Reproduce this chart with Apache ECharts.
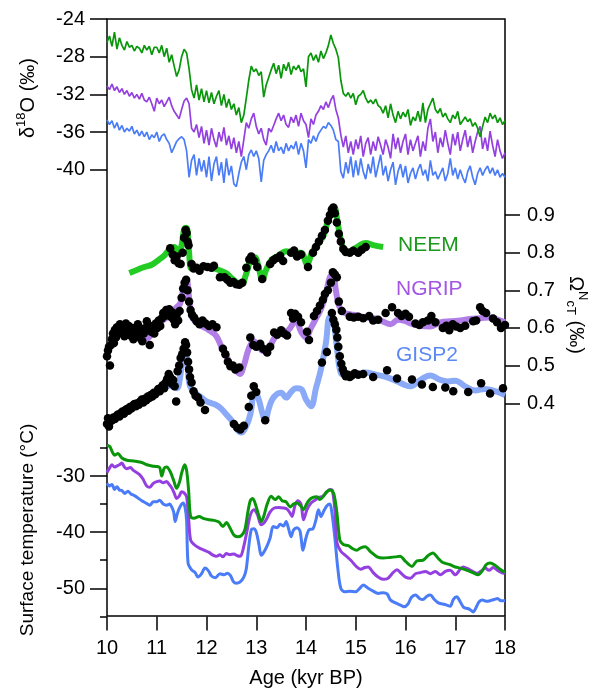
<!DOCTYPE html>
<html>
<head>
<meta charset="utf-8">
<script src="https://cdn.jsdelivr.net/npm/echarts@6/dist/echarts.min.js"></script>
<style>
  html, body { margin: 0; padding: 0; background: #fff; }
  #main { width: 592px; height: 695px; }
</style>
</head>
<body>
<div id="main"></div>
<script>
// ---- data: delta18O, 10..18 kyr, one value every 0.05 kyr ----
var d18oStart = 10, d18oStep = 0.05;
var neemD18O = [
  -26.5, -25.8, -26.9, -25.4, -27.2, -26.0, -26.8, -27.3, -26.4, -27.0,
  -26.8, -27.4, -26.9, -27.1, -27.6, -26.8, -27.3, -26.9, -27.8, -27.0,
  -27.0, -27.6, -26.8, -28.0, -27.1, -28.6, -27.8, -29.0, -30.1, -29.4,
  -28.0, -27.2, -27.6, -29.3, -31.5, -32.4, -31.0, -32.6, -31.4, -32.8,
  -31.6, -32.9, -31.8, -33.0, -32.2, -31.6, -33.2, -32.0, -33.4, -32.5,
  -33.6, -33.0, -34.2, -33.4, -35.0, -34.2, -32.4, -30.5, -29.0, -29.6,
  -29.3, -30.0, -29.6, -32.3, -31.0, -30.2, -29.4, -28.7, -29.8, -28.9,
  -30.3, -28.8, -29.5, -28.6, -29.9, -29.0, -29.4, -28.9, -29.6, -29.3,
  -31.2, -28.0, -27.6, -28.4, -27.8, -28.6, -27.4, -28.2, -27.6, -26.8,
  -25.7, -26.6, -27.2, -28.1, -30.5, -31.9, -32.2, -31.8, -32.4, -31.9,
  -33.1, -32.2, -32.0, -31.6, -32.4, -32.9, -32.6, -33.0, -32.5, -33.2,
  -33.4, -34.0, -33.2, -34.5, -33.0, -34.2, -35.0, -33.8, -34.6, -33.9,
  -34.4, -33.6, -35.3, -34.4, -34.8, -33.8, -34.9, -32.9, -35.0, -33.6,
  -33.0, -32.4, -33.6, -34.0, -33.5, -34.4, -34.0, -34.6, -35.0, -34.2,
  -34.6, -33.8, -35.2, -34.8, -34.4, -34.9, -34.6, -35.4, -35.0, -35.6,
  -36.5, -35.4, -34.4, -35.0, -34.0, -34.6, -34.2, -35.0, -34.5, -35.2,
  -34.8
];
var ngripD18O = [
  -31.1, -31.5, -30.9, -31.6, -31.2, -31.8, -31.4, -32.0, -31.6, -32.2,
  -31.8, -32.4, -32.0, -32.5, -31.9, -32.6, -32.8, -32.3, -33.0, -33.8,
  -32.4, -33.0, -32.6, -33.3, -32.8, -32.3, -33.2, -33.8, -34.2, -34.6,
  -33.6, -32.7, -32.4, -33.0, -35.6, -36.0, -35.2, -36.6, -35.4, -37.2,
  -35.8, -37.4, -35.6, -36.8, -37.6, -36.0, -37.0, -35.5, -37.4, -36.4,
  -37.8, -36.6, -38.2, -37.0, -38.6, -36.8, -35.0, -35.6, -34.6, -34.0,
  -35.4, -36.2, -35.6, -36.8, -37.4, -35.6, -36.0, -35.3, -34.6, -34.0,
  -34.8, -34.2, -35.2, -35.5, -34.4, -35.0, -34.2, -35.4, -34.0, -34.8,
  -35.2, -36.6, -34.6, -35.2, -34.2, -33.8, -33.2, -33.6, -32.8, -33.4,
  -32.6, -32.1, -33.6, -34.5, -36.3, -37.6, -36.4, -38.2, -37.0, -38.4,
  -36.8, -37.8, -36.4, -38.6, -37.2, -36.6, -38.4, -37.0, -38.0, -36.5,
  -37.4, -38.4, -36.8, -37.6, -38.8, -36.2, -37.8, -36.6, -38.2, -37.0,
  -36.2, -38.4, -36.8, -38.0, -37.2, -36.4, -38.6, -37.0, -38.0, -35.6,
  -34.6, -37.0, -36.0, -38.2, -36.6, -37.6, -35.8, -37.2, -38.4, -36.2,
  -37.4, -36.0, -38.0, -36.8, -35.8, -37.6, -36.4, -38.2, -37.0, -36.0,
  -35.4, -37.8, -36.6, -38.0, -35.9, -37.4, -38.6, -36.8, -38.0, -38.8,
  -38.2
];
var gisp2D18O = [
  -34.7, -35.2, -34.8, -35.6, -35.0, -35.8, -35.3, -36.0, -35.6, -35.9,
  -35.4, -36.2, -35.8, -36.4, -35.9, -36.5, -36.0, -36.8, -36.3, -36.6,
  -36.0, -37.0, -36.4, -36.2, -36.8, -37.2, -38.2, -37.6, -37.0, -36.7,
  -36.5, -36.8, -38.0, -40.8, -39.0, -38.4, -40.6, -38.8, -40.2, -39.0,
  -40.8, -38.6, -41.2, -39.4, -38.6, -40.6, -39.2, -41.4, -38.8, -40.6,
  -39.6, -41.5, -41.8, -40.4, -39.2, -38.6, -40.0, -38.4, -37.9, -38.6,
  -38.0, -38.8, -41.3, -39.0, -38.4, -38.0, -37.4, -38.2, -37.0, -38.0,
  -37.6, -38.3, -37.2, -38.0, -37.4, -37.8, -37.0, -38.4, -37.2, -38.0,
  -39.8, -36.8, -37.2, -36.4, -37.0, -36.2, -35.8, -35.4, -35.6, -35.0,
  -35.3, -35.8, -36.8, -37.0, -40.2, -40.9, -39.2, -40.4, -38.6, -40.8,
  -39.0, -40.6, -38.8, -40.2, -41.0, -39.4, -40.4, -38.6, -40.8, -39.6,
  -38.4, -40.6, -39.6, -41.2, -40.0, -39.2, -41.6, -40.2, -39.4, -40.8,
  -39.6, -41.4, -40.4, -39.8, -41.0, -40.0, -39.4, -40.6, -40.0, -41.2,
  -39.0, -40.6, -40.2, -41.0, -40.4, -39.8, -41.2, -40.4, -38.8, -40.6,
  -39.8, -41.0, -40.0, -40.8, -41.4, -40.2, -39.6, -40.8, -41.6, -40.4,
  -39.8, -40.6, -40.0, -39.6, -40.4, -39.8, -40.6, -40.0, -40.8, -40.4,
  -40.8
];

// ---- data: Omega (smoothed curves and samples), [age, value] ----
var neemOmegaLine = [[10.45,0.746],[10.6,0.754],[10.75,0.762],[10.9,0.768],[11.05,0.782],[11.15,0.792],[11.25,0.808],[11.35,0.815],[11.45,0.80],[11.5,0.82],[11.56,0.865],[11.6,0.866],[11.65,0.80],[11.7,0.758],[11.8,0.758],[11.95,0.762],[12.1,0.76],[12.25,0.754],[12.4,0.745],[12.5,0.733],[12.6,0.722],[12.7,0.716],[12.8,0.745],[12.9,0.785],[12.97,0.788],[13.05,0.76],[13.12,0.728],[13.2,0.755],[13.3,0.78],[13.45,0.792],[13.6,0.804],[13.75,0.8],[13.9,0.8],[14.02,0.77],[14.12,0.8],[14.25,0.825],[14.35,0.845],[14.45,0.89],[14.52,0.915],[14.57,0.92],[14.63,0.885],[14.7,0.835],[14.8,0.80],[14.9,0.805],[15.05,0.817],[15.2,0.826],[15.35,0.82],[15.55,0.815]];
var ngripOmegaLine = [[10.5,0.585],[10.6,0.59],[10.7,0.58],[10.8,0.572],[10.9,0.585],[11.0,0.605],[11.1,0.618],[11.2,0.628],[11.3,0.64],[11.4,0.655],[11.47,0.665],[11.53,0.70],[11.6,0.727],[11.65,0.68],[11.7,0.63],[11.8,0.615],[11.9,0.605],[12.0,0.598],[12.1,0.59],[12.2,0.578],[12.3,0.55],[12.4,0.525],[12.5,0.50],[12.6,0.485],[12.67,0.478],[12.75,0.50],[12.85,0.545],[12.95,0.565],[13.05,0.55],[13.15,0.538],[13.25,0.545],[13.35,0.57],[13.45,0.585],[13.55,0.59],[13.65,0.595],[13.8,0.62],[13.9,0.59],[14.0,0.575],[14.1,0.60],[14.2,0.625],[14.3,0.65],[14.4,0.69],[14.48,0.735],[14.54,0.74],[14.6,0.70],[14.66,0.66],[14.75,0.642],[14.9,0.636],[15.0,0.634],[15.2,0.628],[15.4,0.625],[15.5,0.62],[15.7,0.61],[15.85,0.622],[16.0,0.618],[16.1,0.612],[16.3,0.605],[16.5,0.604],[16.7,0.615],[16.9,0.618],[17.1,0.62],[17.3,0.624],[17.5,0.626],[17.7,0.628],[17.85,0.622],[18.0,0.615]];
var gisp2OmegaLine = [[11.2,0.45],[11.3,0.445],[11.4,0.44],[11.47,0.47],[11.53,0.54],[11.57,0.56],[11.62,0.50],[11.67,0.445],[11.8,0.425],[11.9,0.415],[12.0,0.405],[12.1,0.40],[12.2,0.395],[12.3,0.385],[12.4,0.37],[12.5,0.355],[12.6,0.332],[12.7,0.322],[12.8,0.34],[12.88,0.37],[12.97,0.434],[13.05,0.41],[13.12,0.375],[13.18,0.355],[13.25,0.385],[13.32,0.41],[13.42,0.425],[13.5,0.428],[13.6,0.415],[13.7,0.43],[13.8,0.44],[13.9,0.438],[14.0,0.41],[14.1,0.392],[14.2,0.44],[14.3,0.49],[14.4,0.56],[14.48,0.63],[14.55,0.62],[14.62,0.55],[14.7,0.48],[14.8,0.475],[15.0,0.476],[15.2,0.482],[15.4,0.476],[15.6,0.47],[15.8,0.46],[16.0,0.448],[16.1,0.445],[16.3,0.462],[16.5,0.474],[16.7,0.462],[16.85,0.458],[17.0,0.46],[17.2,0.445],[17.4,0.434],[17.6,0.438],[17.8,0.432],[18.0,0.422]];

var neemOmegaDots = [[11.27,0.812],[11.32,0.795],[11.36,0.78],[11.4,0.79],[11.44,0.772],[11.48,0.77],[11.52,0.8],[11.55,0.84],[11.58,0.86],[11.6,0.852],[11.62,0.83],[11.64,0.82],[11.7,0.77],[11.74,0.758],[11.8,0.76],[11.86,0.752],[11.94,0.764],[12.02,0.762],[12.1,0.76],[12.15,0.765],[12.27,0.735],[12.36,0.735],[12.42,0.728],[12.48,0.72],[12.54,0.722],[12.6,0.716],[12.66,0.715],[12.72,0.72],[12.8,0.76],[12.86,0.782],[12.9,0.79],[12.96,0.778],[13.02,0.762],[13.12,0.73],[13.28,0.77],[13.34,0.78],[13.4,0.785],[13.48,0.792],[13.54,0.778],[13.7,0.8],[13.76,0.806],[13.82,0.79],[13.9,0.795],[14.04,0.762],[14.14,0.8],[14.2,0.815],[14.26,0.83],[14.32,0.845],[14.38,0.86],[14.44,0.885],[14.48,0.9],[14.52,0.915],[14.55,0.92],[14.58,0.905],[14.62,0.88],[14.66,0.85],[14.7,0.83],[14.75,0.81],[14.8,0.802],[14.88,0.8],[14.95,0.805],[15.05,0.8],[15.12,0.808],[15.2,0.815]];
var ngripOmegaDots = [[10.00,0.525],[10.02,0.54],[10.04,0.55],[10.06,0.5],[10.08,0.555],[10.1,0.57],[10.12,0.585],[10.14,0.56],[10.16,0.595],[10.18,0.575],[10.2,0.602],[10.23,0.585],[10.26,0.61],[10.29,0.595],[10.32,0.6],[10.35,0.578],[10.38,0.612],[10.41,0.59],[10.44,0.605],[10.47,0.58],[10.5,0.6],[10.53,0.57],[10.56,0.598],[10.59,0.585],[10.62,0.61],[10.65,0.575],[10.68,0.598],[10.71,0.565],[10.74,0.585],[10.77,0.6],[10.8,0.618],[10.83,0.6],[10.86,0.555],[10.89,0.59],[10.92,0.605],[10.95,0.585],[10.98,0.612],[11.01,0.6],[11.04,0.62],[11.07,0.605],[11.1,0.625],[11.13,0.64],[11.16,0.632],[11.19,0.648],[11.22,0.638],[11.25,0.65],[11.28,0.63],[11.31,0.642],[11.34,0.622],[11.37,0.61],[11.4,0.635],[11.43,0.62],[11.46,0.645],[11.5,0.68],[11.53,0.705],[11.56,0.72],[11.59,0.728],[11.62,0.7],[11.65,0.67],[11.68,0.648],[11.71,0.635],[11.75,0.628],[11.8,0.618],[11.86,0.61],[11.92,0.62],[11.98,0.612],[12.05,0.605],[12.12,0.61],[12.2,0.602],[12.33,0.545],[12.38,0.53],[12.43,0.51],[12.48,0.498],[12.53,0.5],[12.58,0.49],[12.66,0.495],[12.88,0.575],[12.94,0.555],[13.0,0.55],[13.08,0.558],[13.14,0.545],[13.22,0.535],[13.28,0.55],[13.36,0.588],[13.42,0.582],[13.5,0.594],[13.56,0.585],[13.62,0.58],[13.7,0.64],[13.74,0.625],[13.78,0.638],[13.84,0.63],[13.9,0.615],[14.02,0.59],[14.06,0.568],[14.16,0.632],[14.22,0.645],[14.28,0.66],[14.34,0.675],[14.38,0.69],[14.44,0.7],[14.5,0.72],[14.54,0.748],[14.58,0.742],[14.62,0.735],[14.66,0.67],[14.72,0.645],[14.88,0.63],[14.96,0.628],[15.05,0.63],[15.15,0.626],[15.27,0.632],[15.35,0.62],[15.45,0.622],[15.6,0.64],[15.73,0.655],[15.85,0.64],[15.92,0.632],[16.0,0.638],[16.07,0.63],[16.2,0.612],[16.28,0.608],[16.35,0.615],[16.45,0.62],[16.52,0.632],[16.6,0.615],[16.75,0.6],[16.82,0.606],[16.88,0.594],[16.95,0.61],[17.02,0.604],[17.1,0.6],[17.2,0.606],[17.36,0.618],[17.42,0.62],[17.5,0.655],[17.55,0.645],[17.62,0.64],[17.76,0.625],[17.84,0.615],[17.92,0.6],[18.0,0.608]];
var gisp2OmegaDots = [[10.00,0.345],[10.02,0.36],[10.04,0.338],[10.07,0.352],[10.10,0.355],[10.13,0.362],[10.16,0.358],[10.19,0.366],[10.22,0.37],[10.25,0.365],[10.28,0.374],[10.31,0.378],[10.34,0.372],[10.37,0.382],[10.40,0.385],[10.43,0.38],[10.46,0.39],[10.49,0.386],[10.52,0.394],[10.55,0.398],[10.58,0.392],[10.61,0.4],[10.64,0.396],[10.67,0.405],[10.70,0.41],[10.73,0.402],[10.76,0.412],[10.79,0.408],[10.82,0.418],[10.85,0.414],[10.88,0.422],[10.91,0.418],[10.94,0.428],[10.97,0.424],[11.00,0.43],[11.03,0.438],[11.06,0.432],[11.09,0.442],[11.12,0.448],[11.15,0.44],[11.18,0.455],[11.21,0.465],[11.24,0.478],[11.27,0.47],[11.30,0.452],[11.33,0.462],[11.36,0.445],[11.39,0.405],[11.42,0.485],[11.45,0.5],[11.48,0.52],[11.51,0.53],[11.54,0.545],[11.57,0.562],[11.59,0.555],[11.61,0.535],[11.63,0.51],[11.65,0.49],[11.67,0.47],[11.70,0.455],[11.74,0.432],[11.78,0.42],[11.83,0.415],[11.88,0.402],[11.97,0.382],[12.55,0.345],[12.62,0.335],[12.68,0.33],[12.75,0.34],[12.85,0.39],[12.9,0.42],[12.95,0.445],[13.0,0.43],[13.18,0.355],[14.32,0.508],[14.42,0.536],[14.52,0.64],[14.55,0.622],[14.58,0.61],[14.61,0.595],[14.63,0.575],[14.65,0.55],[14.68,0.525],[14.71,0.505],[14.74,0.49],[14.77,0.48],[14.8,0.472],[14.84,0.476],[14.88,0.47],[14.92,0.474],[14.98,0.48],[15.05,0.476],[15.15,0.478],[15.35,0.47],[15.63,0.488],[15.83,0.466],[16.13,0.463],[16.33,0.45],[16.55,0.443],[16.8,0.442],[16.96,0.432],[17.26,0.43],[17.52,0.453],[17.7,0.426],[17.96,0.44]];

// ---- data: surface temperature, [age, degC] ----
var neemTemp = [[10.0,-24.5],[10.06,-24.8],[10.1,-25.6],[10.16,-26.3],[10.22,-26.0],[10.3,-26.8],[10.4,-27.2],[10.5,-27.3],[10.6,-27.4],[10.7,-27.6],[10.8,-28.0],[10.9,-28.2],[11.0,-28.3],[11.06,-28.5],[11.1,-30.0],[11.15,-28.6],[11.2,-28.4],[11.27,-29.2],[11.34,-30.8],[11.4,-32.2],[11.46,-31.0],[11.5,-29.5],[11.56,-28.0],[11.6,-29.0],[11.64,-32.5],[11.68,-37.2],[11.75,-37.5],[11.85,-37.2],[11.95,-37.6],[12.05,-37.8],[12.15,-37.9],[12.25,-38.2],[12.33,-39.0],[12.4,-38.3],[12.47,-39.2],[12.55,-40.5],[12.62,-40.8],[12.7,-40.6],[12.77,-39.6],[12.83,-36.5],[12.88,-34.4],[12.93,-34.0],[13.0,-35.5],[13.05,-37.0],[13.1,-38.1],[13.15,-37.2],[13.22,-35.0],[13.3,-33.6],[13.38,-34.2],[13.45,-33.7],[13.52,-34.4],[13.6,-34.6],[13.68,-35.5],[13.75,-35.0],[13.82,-34.8],[13.9,-35.4],[13.95,-36.0],[14.0,-35.2],[14.06,-34.3],[14.14,-33.8],[14.22,-33.7],[14.28,-34.2],[14.35,-33.6],[14.42,-32.8],[14.5,-32.5],[14.56,-33.2],[14.62,-36.5],[14.68,-41.4],[14.75,-42.2],[14.85,-42.4],[14.95,-43.0],[15.02,-43.2],[15.1,-42.8],[15.19,-42.6],[15.3,-43.5],[15.43,-44.4],[15.55,-44.6],[15.69,-44.5],[15.8,-44.4],[15.89,-44.3],[16.0,-45.2],[16.13,-46.1],[16.23,-45.1],[16.35,-45.0],[16.45,-44.2],[16.55,-43.7],[16.65,-44.6],[16.75,-45.4],[16.9,-45.8],[17.0,-46.2],[17.1,-46.4],[17.24,-46.8],[17.35,-47.2],[17.46,-47.6],[17.55,-46.8],[17.62,-45.8],[17.7,-45.5],[17.8,-45.9],[17.9,-46.6],[18.0,-47.2]];
var ngripTemp = [[10.0,-29.4],[10.05,-28.6],[10.1,-28.0],[10.15,-28.4],[10.2,-28.2],[10.25,-28.0],[10.3,-27.7],[10.35,-28.4],[10.4,-28.7],[10.47,-28.5],[10.53,-29.0],[10.6,-29.4],[10.66,-29.8],[10.72,-30.5],[10.8,-31.8],[10.86,-32.0],[10.93,-31.3],[11.0,-31.0],[11.06,-30.9],[11.13,-31.2],[11.2,-31.0],[11.25,-31.5],[11.3,-32.1],[11.35,-33.0],[11.4,-34.0],[11.45,-33.6],[11.5,-32.8],[11.55,-33.0],[11.6,-33.7],[11.64,-37.5],[11.68,-41.4],[11.75,-42.2],[11.85,-42.8],[11.95,-43.2],[12.05,-43.6],[12.13,-44.1],[12.2,-44.3],[12.27,-44.0],[12.33,-44.4],[12.4,-43.8],[12.47,-44.0],[12.55,-43.9],[12.62,-44.2],[12.68,-44.3],[12.75,-42.5],[12.82,-39.5],[12.88,-37.0],[12.95,-36.0],[13.02,-36.8],[13.1,-38.7],[13.15,-38.4],[13.2,-37.8],[13.28,-36.4],[13.36,-35.7],[13.45,-35.6],[13.55,-35.7],[13.62,-35.9],[13.68,-36.6],[13.72,-37.2],[13.78,-35.2],[13.84,-34.4],[13.9,-35.0],[13.95,-37.8],[14.02,-36.0],[14.1,-34.8],[14.18,-34.3],[14.26,-33.8],[14.34,-33.6],[14.42,-32.8],[14.48,-32.4],[14.53,-32.6],[14.58,-36.0],[14.62,-41.8],[14.7,-43.4],[14.8,-44.2],[14.9,-45.0],[15.02,-46.2],[15.1,-46.6],[15.18,-46.3],[15.25,-46.2],[15.35,-47.2],[15.45,-48.0],[15.55,-48.4],[15.65,-48.2],[15.75,-47.2],[15.83,-46.7],[15.92,-47.4],[16.0,-48.0],[16.1,-48.2],[16.2,-47.4],[16.3,-47.2],[16.4,-47.0],[16.5,-47.4],[16.6,-47.0],[16.7,-47.6],[16.8,-47.0],[16.9,-46.8],[17.0,-47.6],[17.1,-46.6],[17.16,-46.2],[17.25,-46.5],[17.35,-47.0],[17.44,-47.3],[17.52,-46.9],[17.6,-46.4],[17.68,-46.8],[17.76,-46.3],[17.85,-46.8],[17.96,-47.3],[18.0,-47.2]];
var gisp2Temp = [[10.0,-31.3],[10.05,-31.8],[10.1,-31.5],[10.15,-32.4],[10.2,-31.9],[10.25,-32.5],[10.3,-32.6],[10.36,-33.1],[10.42,-32.7],[10.48,-33.2],[10.55,-33.5],[10.62,-33.9],[10.7,-34.4],[10.78,-34.8],[10.86,-35.2],[10.93,-34.6],[11.0,-34.6],[11.06,-34.3],[11.13,-35.0],[11.2,-35.2],[11.26,-35.0],[11.3,-35.5],[11.34,-36.4],[11.37,-38.1],[11.41,-36.8],[11.45,-35.8],[11.5,-35.0],[11.53,-34.8],[11.57,-35.6],[11.6,-38.0],[11.63,-45.5],[11.7,-46.7],[11.77,-47.2],[11.83,-48.0],[11.9,-47.4],[11.97,-46.4],[12.04,-46.9],[12.1,-47.8],[12.18,-48.1],[12.27,-47.4],[12.35,-47.6],[12.42,-47.3],[12.48,-47.7],[12.54,-48.8],[12.6,-49.1],[12.67,-48.9],[12.75,-48.0],[12.8,-46.5],[12.85,-42.5],[12.9,-39.6],[12.95,-39.4],[13.0,-40.0],[13.05,-42.0],[13.1,-44.1],[13.15,-43.6],[13.22,-42.4],[13.28,-41.0],[13.34,-39.0],[13.42,-39.2],[13.48,-38.6],[13.55,-38.9],[13.6,-38.1],[13.65,-39.4],[13.7,-40.8],[13.75,-39.6],[13.82,-39.2],[13.88,-39.8],[13.94,-43.2],[14.0,-41.0],[14.06,-39.6],[14.14,-39.4],[14.2,-37.8],[14.25,-36.0],[14.3,-37.2],[14.36,-36.2],[14.42,-35.3],[14.48,-35.0],[14.52,-36.5],[14.58,-41.0],[14.64,-46.5],[14.7,-50.0],[14.78,-50.6],[14.88,-50.5],[15.0,-50.6],[15.08,-50.0],[15.15,-49.4],[15.25,-50.0],[15.35,-50.5],[15.45,-50.9],[15.55,-50.8],[15.63,-51.0],[15.7,-52.1],[15.8,-52.6],[15.9,-53.0],[15.97,-53.3],[16.05,-52.8],[16.12,-51.6],[16.2,-51.2],[16.28,-51.8],[16.35,-52.0],[16.43,-51.4],[16.5,-51.2],[16.58,-52.0],[16.66,-52.6],[16.75,-52.8],[16.83,-53.0],[16.9,-53.2],[16.96,-52.0],[17.03,-51.5],[17.1,-52.4],[17.17,-53.4],[17.25,-53.6],[17.3,-53.8],[17.36,-54.2],[17.42,-53.4],[17.48,-52.4],[17.55,-52.1],[17.62,-52.3],[17.7,-52.2],[17.78,-52.0],[17.85,-51.8],[17.92,-52.2],[18.0,-52.2]];

// tick labels
var ageTicks = [10, 11, 12, 13, 14, 15, 16, 17, 18];
var d18oTicks = [-40, -36, -32, -28, -24];
var omegaTicks = [0.4, 0.5, 0.6, 0.7, 0.8, 0.9];
var tempTicks = [-50, -40, -30];
var tempMinorTicks = [-55, -45, -35, -25];

var FONT = '"Liberation Sans", Arial, Helvetica, sans-serif';
var GL = 107, GW = 398;

function withAge(vals) {
    return vals.map(function (v, i) { return [+(d18oStart + i * d18oStep).toFixed(2), v]; });
}

var chart = echarts.init(document.getElementById('main'), null, {renderer: 'canvas'});

var tickStyle = {color: '#000', width: 1.5};
var labelStyle = {fontSize: 20, color: '#000', fontFamily: FONT};

var option = {
    animation: false,
    backgroundColor: '#fff',
    grid: [
        {left: GL, width: GW, top: 19, height: 597, show: true, borderColor: '#000', borderWidth: 1.5, backgroundColor: 'transparent'},
        {left: GL, width: GW, top: 19, height: 188.4},
        {left: GL, width: GW, top: 177.4, height: 263.5},
        {left: GL, width: GW, top: 419.85, height: 196.55}
    ],
    xAxis: [
        {type: 'value', gridIndex: 0, min: 10, max: 18, show: false},
        {type: 'value', gridIndex: 1, min: 10, max: 18, show: false},
        {type: 'value', gridIndex: 2, min: 10, max: 18, show: false},
        {
            type: 'value', gridIndex: 3, min: 10, max: 18, interval: 1,
            axisLine: {show: false},
            axisTick: {show: true, length: 14, lineStyle: tickStyle, customValues: ageTicks},
            axisLabel: Object.assign({margin: 22, customValues: ageTicks}, labelStyle),
            splitLine: {show: false},
            name: 'Age (kyr BP)', nameLocation: 'middle', nameGap: 52,
            nameTextStyle: labelStyle
        }
    ],
    yAxis: [
        {type: 'value', gridIndex: 0, show: false},
        {
            type: 'value', gridIndex: 1, position: 'left', min: -44, max: -24,
            axisLine: {show: false},
            axisTick: {show: true, length: 17, lineStyle: tickStyle, customValues: d18oTicks},
            axisLabel: Object.assign({margin: 22, customValues: d18oTicks}, labelStyle),
            splitLine: {show: false}
        },
        {
            type: 'value', gridIndex: 2, position: 'right', min: 0.3, max: 1.0,
            axisLine: {show: false},
            axisTick: {show: true, length: 15, lineStyle: tickStyle, customValues: omegaTicks},
            axisLabel: Object.assign({margin: 22, customValues: omegaTicks,
                formatter: function (v) { return v.toFixed(1); }}, labelStyle),
            splitLine: {show: false}
        },
        {
            type: 'value', gridIndex: 3, position: 'left', offset: 0, min: -55, max: -20,
            axisLine: {show: false},
            axisTick: {show: true, length: 17, lineStyle: tickStyle, customValues: tempTicks},
            axisLabel: Object.assign({margin: 22, customValues: tempTicks}, labelStyle),
            splitLine: {show: false}
        },
        {
            type: 'value', gridIndex: 3, position: 'left', offset: 0, min: -55, max: -20,
            axisLine: {show: false},
            axisTick: {show: true, length: 7, lineStyle: tickStyle, customValues: tempMinorTicks},
            axisLabel: {show: false},
            splitLine: {show: false}
        }
    ],
    graphic: [
        {
            type: 'text', x: 28, y: 98, rotation: Math.PI / 2,
            style: {
                text: 'δ{sup|18}O (‰)', fill: '#000', fontSize: 20, fontFamily: FONT,
                align: 'center', verticalAlign: 'middle', textAlign: 'center', textVerticalAlign: 'middle',
                rich: {sup: {fontSize: 13, fontFamily: FONT, fill: '#000', padding: [0, 0, 14, 0]}}
            }
        },
        {
            type: 'text', x: 28, y: 530, rotation: Math.PI / 2,
            style: {
                text: 'Surface temperature (°C)', fill: '#000', fontSize: 19, fontFamily: FONT,
                align: 'center', verticalAlign: 'middle', textAlign: 'center', textVerticalAlign: 'middle'
            }
        },
        {
            type: 'text', x: 576, y: 315, rotation: -Math.PI / 2,
            style: {
                text: 'Ω{sup|N}{sub|cT} (‰)', fill: '#000', fontSize: 20, fontFamily: FONT,
                align: 'center', verticalAlign: 'middle', textAlign: 'center', textVerticalAlign: 'middle',
                rich: {
                    sup: {fontSize: 13, fontFamily: FONT, fill: '#000', padding: [0, 0, 14, 0]},
                    sub: {fontSize: 13, fontFamily: FONT, fill: '#000', padding: [10, 0, 0, 0]}
                }
            }
        },
        {type: 'text', x: 398, y: 245, style: {text: 'NEEM', fill: '#1a991a', fontSize: 21, fontFamily: FONT, verticalAlign: 'middle', textVerticalAlign: 'middle'}},
        {type: 'text', x: 396, y: 289, style: {text: 'NGRIP', fill: '#a455e6', fontSize: 21, fontFamily: FONT, verticalAlign: 'middle', textVerticalAlign: 'middle'}},
        {type: 'text', x: 396, y: 355, style: {text: 'GISP2', fill: '#5a88f5', fontSize: 21, fontFamily: FONT, verticalAlign: 'middle', textVerticalAlign: 'middle'}}
    ],
    series: [
        // top: delta18O
        {type: 'line', xAxisIndex: 1, yAxisIndex: 1, data: withAge(gisp2D18O), showSymbol: false, lineStyle: {color: '#4a7cf8', width: 1.7}},
        {type: 'line', xAxisIndex: 1, yAxisIndex: 1, data: withAge(ngripD18O), showSymbol: false, lineStyle: {color: '#9440e0', width: 1.7}},
        {type: 'line', xAxisIndex: 1, yAxisIndex: 1, data: withAge(neemD18O), showSymbol: false, lineStyle: {color: '#0a960a', width: 1.7}},
        // middle: Omega curves + samples
        {type: 'line', xAxisIndex: 2, yAxisIndex: 2, data: neemOmegaLine, smooth: 0.4, showSymbol: false, lineStyle: {color: '#22cc22', width: 6}, z: 2},
        {type: 'line', xAxisIndex: 2, yAxisIndex: 2, data: ngripOmegaLine, smooth: 0.4, showSymbol: false, lineStyle: {color: '#b07ee6', width: 6}, z: 2},
        {type: 'line', xAxisIndex: 2, yAxisIndex: 2, data: gisp2OmegaLine, smooth: 0.4, showSymbol: false, lineStyle: {color: '#8aaaf8', width: 6}, z: 2},
        {type: 'scatter', xAxisIndex: 2, yAxisIndex: 2, data: neemOmegaDots, symbolSize: 8.5, itemStyle: {color: '#000', opacity: 1}, z: 3},
        {type: 'scatter', xAxisIndex: 2, yAxisIndex: 2, data: ngripOmegaDots, symbolSize: 8.5, itemStyle: {color: '#000', opacity: 1}, z: 3},
        {type: 'scatter', xAxisIndex: 2, yAxisIndex: 2, data: gisp2OmegaDots, symbolSize: 8.5, itemStyle: {color: '#000', opacity: 1}, z: 3},
        // bottom: temperature
        {type: 'line', xAxisIndex: 3, yAxisIndex: 3, data: gisp2Temp, smooth: 0.3, showSymbol: false, lineStyle: {color: '#4a7cf8', width: 3}},
        {type: 'line', xAxisIndex: 3, yAxisIndex: 3, data: ngripTemp, smooth: 0.3, showSymbol: false, lineStyle: {color: '#9440e0', width: 3}},
        {type: 'line', xAxisIndex: 3, yAxisIndex: 3, data: neemTemp, smooth: 0.3, showSymbol: false, lineStyle: {color: '#0a960a', width: 3}}
    ]
};

chart.setOption(option);
</script>
</body>
</html>
